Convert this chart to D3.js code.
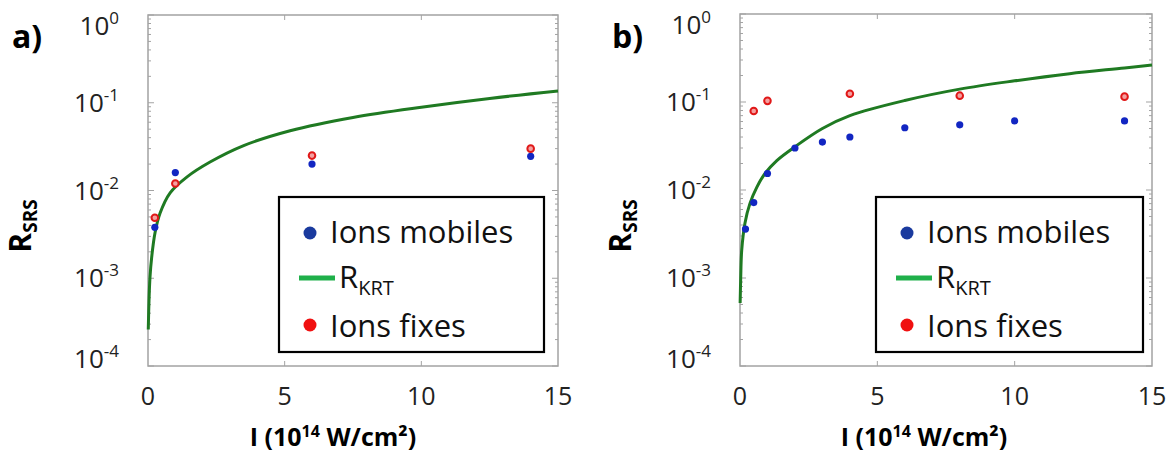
<!DOCTYPE html>
<html><head><meta charset="utf-8">
<script src="https://cdn.jsdelivr.net/npm/d3@7"></script>
<style>
body{margin:0;background:#fff;}
svg{font-family:"Open Sans",sans-serif;}
</style></head>
<body><svg id="c" width="1168" height="456"></svg>
<script>
// ---- data ----
const xTicks = [0, 5, 10, 15];
const yTicks = [1, 0.1, 0.01, 0.001, 0.0001];
const yTickExp = ["0", "-1", "-2", "-3", "-4"];

const aMobilesI = [0.25, 1, 6, 14];
const aMobilesR = [0.0038, 0.016, 0.020, 0.0245];
const aFixesI = [0.25, 1, 6, 14];
const aFixesR = [0.0049, 0.012, 0.025, 0.030];
const aKrtI = [0.01, 0.037, 0.073, 0.136, 0.257, 0.44, 0.81, 1.43, 2.27, 3.5, 5.2, 7.5, 10, 12.5, 15];
const aKrtR = [0.00026, 0.00056, 0.00103, 0.00175, 0.0033, 0.0055, 0.0094, 0.0143, 0.0211, 0.0325, 0.048, 0.068, 0.089, 0.112, 0.136];

const bMobilesI = [0.2, 0.5, 1, 2, 3, 4, 6, 8, 10, 14];
const bMobilesR = [0.0036, 0.0072, 0.0154, 0.030, 0.035, 0.040, 0.051, 0.055, 0.061, 0.061];
const bFixesI = [0.5, 1, 4, 8, 14];
const bFixesR = [0.079, 0.103, 0.124, 0.118, 0.115];
const bKrtI = [0.005, 0.026, 0.062, 0.18, 0.36, 0.61, 0.91, 1.34, 2, 3, 4, 6, 8, 10, 12, 14, 15];
const bKrtR = [0.00052, 0.0010, 0.00206, 0.0042, 0.0070, 0.0107, 0.0154, 0.0216, 0.031, 0.050, 0.070, 0.104, 0.140, 0.174, 0.21, 0.244, 0.264];

const legendLabels = ["Ions mobiles", "R", "Ions fixes"];
const panelLabels = ["a)", "b)"];

// ---- drawing ----
const svg = d3.select("#c");
const AXIS = "#a3a3a3";

function panel(cfg){
  const {x0, x1, y0, y1, label, mobI, mobR, fixI, fixR, krtI, krtR, lx, ly, lw, lh, labX, titleX} = cfg;
  const x = d3.scaleLinear().domain([0, 15]).range([x0, x1]);
  const y = d3.scaleLog().domain([1e-4, 1]).range([y1, y0]);
  const g = svg.append("g");

  // minor/major ticks on left & right
  const minors = [];
  for (let e = -4; e < 0; e++) for (let k = 1; k < 10; k++) minors.push(k * Math.pow(10, e));
  minors.push(1);
  minors.forEach(v => {
    const major = Math.abs(Math.log10(v) - Math.round(Math.log10(v))) < 1e-9;
    const len = major ? 6 : 3;
    g.append("line").attr("x1", x0).attr("x2", x0 + len).attr("y1", y(v)).attr("y2", y(v))
      .attr("stroke", AXIS).attr("stroke-width", 1);
    g.append("line").attr("x1", x1).attr("x2", x1 - len).attr("y1", y(v)).attr("y2", y(v))
      .attr("stroke", AXIS).attr("stroke-width", 1);
  });
  [5, 10].forEach(v => {
    g.append("line").attr("x1", x(v)).attr("x2", x(v)).attr("y1", y0).attr("y2", y0 + 5).attr("stroke", AXIS);
    g.append("line").attr("x1", x(v)).attr("x2", x(v)).attr("y1", y1).attr("y2", y1 - 5).attr("stroke", AXIS);
  });
  g.append("rect").attr("x", x0).attr("y", y0).attr("width", x1 - x0).attr("height", y1 - y0)
    .attr("fill", "none").attr("stroke", AXIS).attr("stroke-width", 1.5);

  // y tick labels
  yTicks.forEach((v, i) => {
    const yy = Math.min(Math.max(y(v), y0 + 11), y1 - 7);
    const t = g.append("text").attr("x", x0 - 29).attr("y", yy + 9).attr("text-anchor", "end")
      .attr("font-size", 26).attr("fill", "#222");
    t.append("tspan").text("10");
    t.append("tspan").attr("font-size", 17).attr("dy", -11).text(yTickExp[i]);
  });
  // x tick labels
  xTicks.forEach(v => {
    g.append("text").attr("x", x(v)).attr("y", 405).attr("text-anchor", "middle")
      .attr("font-size", 25).attr("fill", "#222").text(v);
  });

  // curve
  const line = d3.line().x(d => x(d[0])).y(d => y(d[1])).curve(d3.curveCatmullRom.alpha(0.5));
  g.append("path").datum(krtI.map((v, i) => [v, krtR[i]])).attr("d", line)
    .attr("fill", "none").attr("stroke", "#1f7a22").attr("stroke-width", 3);

  // points
  g.selectAll(".mob").data(mobI.map((v, i) => [v, mobR[i]])).join("circle")
    .attr("cx", d => x(d[0])).attr("cy", d => y(d[1])).attr("r", 3.6).attr("fill", "#1226c2");
  g.selectAll(".fix").data(fixI.map((v, i) => [v, fixR[i]])).join("circle")
    .attr("cx", d => x(d[0])).attr("cy", d => y(d[1])).attr("r", 3.3)
    .attr("fill", "#f4a0a0").attr("stroke", "#e01818").attr("stroke-width", 2);

  // legend
  g.append("rect").attr("x", lx).attr("y", ly).attr("width", lw).attr("height", lh)
    .attr("fill", "#fff").attr("stroke", "#000").attr("stroke-width", 2.2);
  g.append("circle").attr("cx", lx + 31).attr("cy", ly + 36).attr("r", 6.5).attr("fill", "#1a3a9e");
  g.append("text").attr("x", lx + 51).attr("y", ly + 46).attr("font-size", 31).attr("fill", "#111").text(legendLabels[0]);
  g.append("line").attr("x1", lx + 20).attr("x2", lx + 56).attr("y1", ly + 81).attr("y2", ly + 81)
    .attr("stroke", "#1fb04a").attr("stroke-width", 5);
  const rt = g.append("text").attr("x", lx + 60).attr("y", ly + 91).attr("font-size", 31).attr("fill", "#111");
  rt.append("tspan").text(legendLabels[1]);
  rt.append("tspan").attr("font-size", 20).attr("dy", 7).text("KRT");
  g.append("circle").attr("cx", lx + 31).attr("cy", ly + 128).attr("r", 6.5).attr("fill", "#f01010");
  g.append("text").attr("x", lx + 51).attr("y", ly + 140).attr("font-size", 31).attr("fill", "#111").text(legendLabels[2]);

  // panel label
  g.append("text").attr("x", labX).attr("y", 48).attr("font-size", 32).attr("font-weight", "bold").text(label);

  // y title
  const yt = g.append("text").attr("transform", `translate(${labX + 19},226) rotate(-90)`)
    .attr("text-anchor", "middle").attr("font-size", 30).attr("font-weight", "bold");
  yt.append("tspan").text("R");
  yt.append("tspan").attr("font-size", 19).attr("dy", 6).text("SRS");

  // x title
  const xt = g.append("text").attr("x", titleX).attr("y", 446).attr("text-anchor", "middle")
    .attr("font-size", 25).attr("font-weight", "bold");
  xt.append("tspan").text("I (10");
  xt.append("tspan").attr("font-size", 16).attr("dy", -9).text("14");
  xt.append("tspan").attr("dy", 9).text(" W/cm²)");
}

panel({x0: 148, x1: 558, y0: 15, y1: 366, label: panelLabels[0],
  mobI: aMobilesI, mobR: aMobilesR, fixI: aFixesI, fixR: aFixesR, krtI: aKrtI, krtR: aKrtR,
  lx: 279, ly: 197, lw: 265, lh: 155, labX: 12, titleX: 333});
panel({x0: 740, x1: 1152, y0: 14, y1: 366, label: panelLabels[1],
  mobI: bMobilesI, mobR: bMobilesR, fixI: bFixesI, fixR: bFixesR, krtI: bKrtI, krtR: bKrtR,
  lx: 876, ly: 197, lw: 267, lh: 155, labX: 612, titleX: 924});
</script></body></html>
